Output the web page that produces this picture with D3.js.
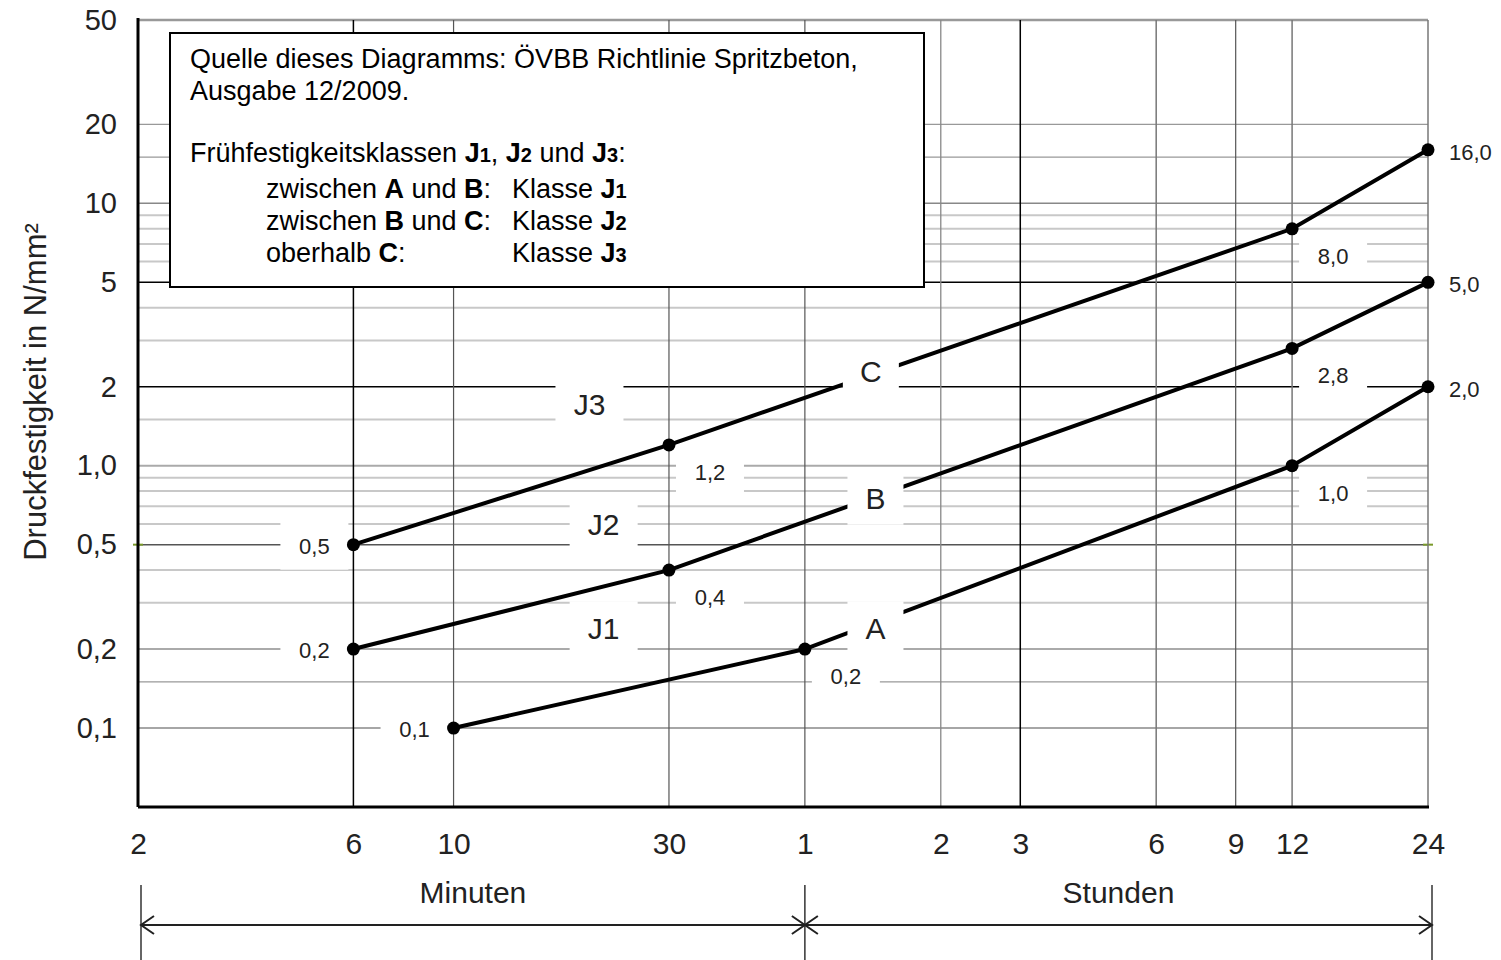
<!DOCTYPE html>
<html>
<head>
<meta charset="utf-8">
<script src="https://cdn.jsdelivr.net/npm/d3@7"></script>
<style>
  body { margin: 0; background: #fff; }
  svg { display: block; font-family: "Liberation Sans", Arial, sans-serif; }
</style>
</head>
<body>
<div id="chart"></div>
<script>
// time axis in minutes, strength axis in N/mm²
const xTicks = [2, 6, 10, 30, 60, 120, 180, 360, 540, 720, 1440];
const xTickLabels = ["2", "6", "10", "30", "1", "2", "3", "6", "9", "12", "24"];
const yTicks = [0.1, 0.2, 0.5, 1, 2, 5, 10, 20, 50];
const yTickLabels = ["0,1", "0,2", "0,5", "1,0", "2", "5", "10", "20", "50"];
const yGridExtra = [0.15, 0.3, 0.4, 0.6, 0.7, 0.8, 0.9, 1.5, 3, 4, 6, 7, 8, 9, 15];

// limit curves A, B, C
const seriesNames = ["A", "B", "C"];
const seriesTimes = [[10, 60, 720, 1440], [6, 30, 720, 1440], [6, 30, 720, 1440]];
const seriesValues = [[0.1, 0.2, 1.0, 2.0], [0.2, 0.4, 2.8, 5.0], [0.5, 1.2, 8.0, 16.0]];
const pointLabels = [["0,1", "0,2", "1,0", "2,0"], ["0,2", "0,4", "2,8", "5,0"], ["0,5", "1,2", "8,0", "16,0"]];
const pointLabelSide = [["left", "below", "below", "right"], ["left", "below", "below", "right"], ["left", "below", "below", "right"]];

// curve / class labels, placed in data units
const classLabels = ["A", "B", "C", "J1", "J2", "J3"];
const classLabelTimes = [86, 86, 84, 21.5, 21.5, 20];
const classLabelValues = [0.24, 0.755, 2.3, 0.24, 0.6, 1.72];

const svg = d3.select("#chart").append("svg").attr("width", 1501).attr("height", 960);

const x = d3.scaleLog().domain([2, 1440]).range([138, 1428]);
const y = d3.scaleLog().domain([0.05, 50]).range([807, 20]);

// horizontal grid
function hStyle(v) {
  if (v === 2 || v === 5) return ["#000", 1.5];
  if (v === 0.5) return ["#555", 1.5];
  if (v === 0.1 || v === 10) return ["#888", 1.5];
  if (v === 0.15 || v === 15 || v === 20) return ["#999", 1.3];
  if (v === 0.2 || v === 1) return ["#aaa", 2];
  if (v === 50) return ["#999", 2.5];
  return ["#c8c8c8", 2];
}
const hGrid = yTicks.concat(yGridExtra);
svg.append("g").selectAll("line").data(hGrid).enter().append("line")
  .attr("x1", x(2)).attr("x2", x(1440))
  .attr("y1", d => y(d)).attr("y2", d => y(d))
  .attr("stroke", d => hStyle(d)[0])
  .attr("stroke-width", d => hStyle(d)[1]);

// small green marks on the 0,5 line
svg.append("g").selectAll("line").data([2, 1440]).enter().append("line")
  .attr("x1", d => x(d) - 5).attr("x2", d => x(d) + 5)
  .attr("y1", y(0.5)).attr("y2", y(0.5))
  .attr("stroke", "#7a9a2a").attr("stroke-width", 2);

// vertical grid
function vStyle(t) {
  if (t === 6 || t === 180) return ["#000", 1.5];
  if (t === 120) return ["#888", 1.3];
  if (t === 720 || t === 1440 || t === 360) return ["#777", 1.5];
  return ["#555", 1.2];
}
svg.append("g").selectAll("line").data(xTicks.filter(t => t !== 2)).enter().append("line")
  .attr("x1", d => x(d)).attr("x2", d => x(d))
  .attr("y1", y(50)).attr("y2", y(0.05))
  .attr("stroke", d => vStyle(d)[0])
  .attr("stroke-width", d => vStyle(d)[1]);

// frame: left and bottom axis lines
svg.append("line").attr("x1", x(2)).attr("x2", x(2)).attr("y1", y(50) - 2).attr("y2", y(0.05))
  .attr("stroke", "#000").attr("stroke-width", 3);
svg.append("line").attr("x1", x(2)).attr("x2", x(1440) + 1).attr("y1", y(0.05)).attr("y2", y(0.05))
  .attr("stroke", "#000").attr("stroke-width", 3);

// axes: labels only
const xAxis = svg.append("g").attr("transform", "translate(0," + y(0.05) + ")")
  .call(d3.axisBottom(x).tickValues(xTicks).tickSize(0).tickPadding(26)
    .tickFormat((d, i) => xTickLabels[i]));
xAxis.select(".domain").remove();
xAxis.selectAll("text").attr("font-size", 30).attr("fill", "#222")
  .attr("font-family", "'Liberation Sans', Arial, sans-serif");

const yAxis = svg.append("g").attr("transform", "translate(" + x(2) + ",0)")
  .call(d3.axisLeft(y).tickValues(yTicks).tickSize(0).tickPadding(21)
    .tickFormat((d, i) => yTickLabels[i]));
yAxis.select(".domain").remove();
yAxis.selectAll("text").attr("font-size", 29).attr("fill", "#222")
  .attr("font-family", "'Liberation Sans', Arial, sans-serif");

svg.append("text")
  .attr("transform", "translate(46,392) rotate(-90)")
  .attr("text-anchor", "middle")
  .attr("font-size", 31).attr("fill", "#222")
  .text("Druckfestigkeit in N/mm²");

// curves
const line = d3.line().x(d => x(d.t)).y(d => y(d.v));
const series = seriesNames.map((name, i) => ({
  name: name,
  points: seriesTimes[i].map((t, j) => ({ t: t, v: seriesValues[i][j], label: pointLabels[i][j], side: pointLabelSide[i][j] }))
}));

svg.append("g").selectAll("path").data(series).enter().append("path")
  .attr("d", d => line(d.points))
  .attr("fill", "none").attr("stroke", "#000").attr("stroke-width", 4);

// white label boxes cut the grid and curves
const classes = classLabels.map((c, i) => ({ text: c, t: classLabelTimes[i], v: classLabelValues[i] }));
svg.append("g").selectAll("rect").data(classes).enter().append("rect")
  .attr("x", d => x(d.t) - (d.text.length > 1 ? 34 : 28))
  .attr("y", d => y(d.v) - 27)
  .attr("width", d => d.text.length > 1 ? 68 : 56)
  .attr("height", 54)
  .attr("fill", "#fff");
svg.append("g").selectAll("text").data(classes).enter().append("text")
  .attr("x", d => x(d.t)).attr("y", d => y(d.v))
  .attr("dy", "0.36em").attr("text-anchor", "middle")
  .attr("font-size", 30).attr("fill", "#222")
  .text(d => d.text);

const allPoints = series.flatMap(s => s.points);
function labelPos(d) {
  if (d.side === "left") return [x(d.t) - 39, y(d.v) + 1];
  if (d.side === "below") return [x(d.t) + 41, y(d.v) + 27];
  return [x(d.t) + 21, y(d.v) + 2];
}
svg.append("g").selectAll("rect").data(allPoints.filter(d => d.side !== "right")).enter().append("rect")
  .attr("x", d => labelPos(d)[0] - 34).attr("y", d => labelPos(d)[1] - 24)
  .attr("width", 68).attr("height", 48).attr("fill", "#fff");
svg.append("g").selectAll("text").data(allPoints).enter().append("text")
  .attr("x", d => labelPos(d)[0]).attr("y", d => labelPos(d)[1])
  .attr("dy", "0.36em")
  .attr("text-anchor", d => d.side === "right" ? "start" : "middle")
  .attr("font-size", 22).attr("fill", "#222")
  .text(d => d.label);

svg.append("g").selectAll("circle").data(allPoints).enter().append("circle")
  .attr("cx", d => x(d.t)).attr("cy", d => y(d.v)).attr("r", 6.5).attr("fill", "#000");

// legend box
const lg = svg.append("g");
lg.append("rect").attr("x", 170).attr("y", 33).attr("width", 754).attr("height", 254)
  .attr("fill", "#fff").attr("stroke", "#000").attr("stroke-width", 2);

function richLine(px, py, parts) {
  const t = lg.append("text").attr("x", px).attr("y", py).attr("font-size", 27).attr("fill", "#000");
  parts.forEach(p => {
    const s = t.append("tspan").text(p[0]);
    if (p[1] === "b") s.attr("font-weight", "bold");
    if (p[1] === "s") s.attr("font-weight", "bold").attr("font-size", 20);
  });
  return t;
}
richLine(190, 68, [["Quelle dieses Diagramms: ÖVBB Richtlinie Spritzbeton,"]]);
richLine(190, 100, [["Ausgabe 12/2009."]]);
richLine(190, 162, [["Frühfestigkeitsklassen "], ["J", "b"], ["1", "s"], [", "], ["J", "b"], ["2", "s"], [" und "], ["J", "b"], ["3", "s"], [":"]]);
richLine(266, 198, [["zwischen "], ["A", "b"], [" und "], ["B", "b"], [":"]]);
richLine(266, 230, [["zwischen "], ["B", "b"], [" und "], ["C", "b"], [":"]]);
richLine(266, 262, [["oberhalb "], ["C", "b"], [":"]]);
richLine(512, 198, [["Klasse "], ["J", "b"], ["1", "s"]]);
richLine(512, 230, [["Klasse "], ["J", "b"], ["2", "s"]]);
richLine(512, 262, [["Klasse "], ["J", "b"], ["3", "s"]]);

// Minuten / Stunden brackets
const brackets = [x(2) + 3, x(60), x(1440) + 4];
const arrowY = 925;
svg.append("g").selectAll("line").data(brackets).enter().append("line")
  .attr("x1", d => d).attr("x2", d => d).attr("y1", 885).attr("y2", 960)
  .attr("stroke", "#333").attr("stroke-width", 1.5);
const spans = [["Minuten", brackets[0], brackets[1]], ["Stunden", brackets[1], brackets[2]]];
spans.forEach(s => {
  const a = s[1], b = s[2];
  svg.append("line").attr("x1", a).attr("x2", b).attr("y1", arrowY).attr("y2", arrowY)
    .attr("stroke", "#222").attr("stroke-width", 2);
  svg.append("path")
    .attr("d", "M" + (a + 13) + "," + (arrowY - 9) + "L" + a + "," + arrowY + "L" + (a + 13) + "," + (arrowY + 9)
      + "M" + (b - 13) + "," + (arrowY - 9) + "L" + b + "," + arrowY + "L" + (b - 13) + "," + (arrowY + 9))
    .attr("fill", "none").attr("stroke", "#222").attr("stroke-width", 2);
  svg.append("text").attr("x", (a + b) / 2).attr("y", 903)
    .attr("text-anchor", "middle").attr("font-size", 30).attr("fill", "#222")
    .text(s[0]);
});
</script>
</body>
</html>
